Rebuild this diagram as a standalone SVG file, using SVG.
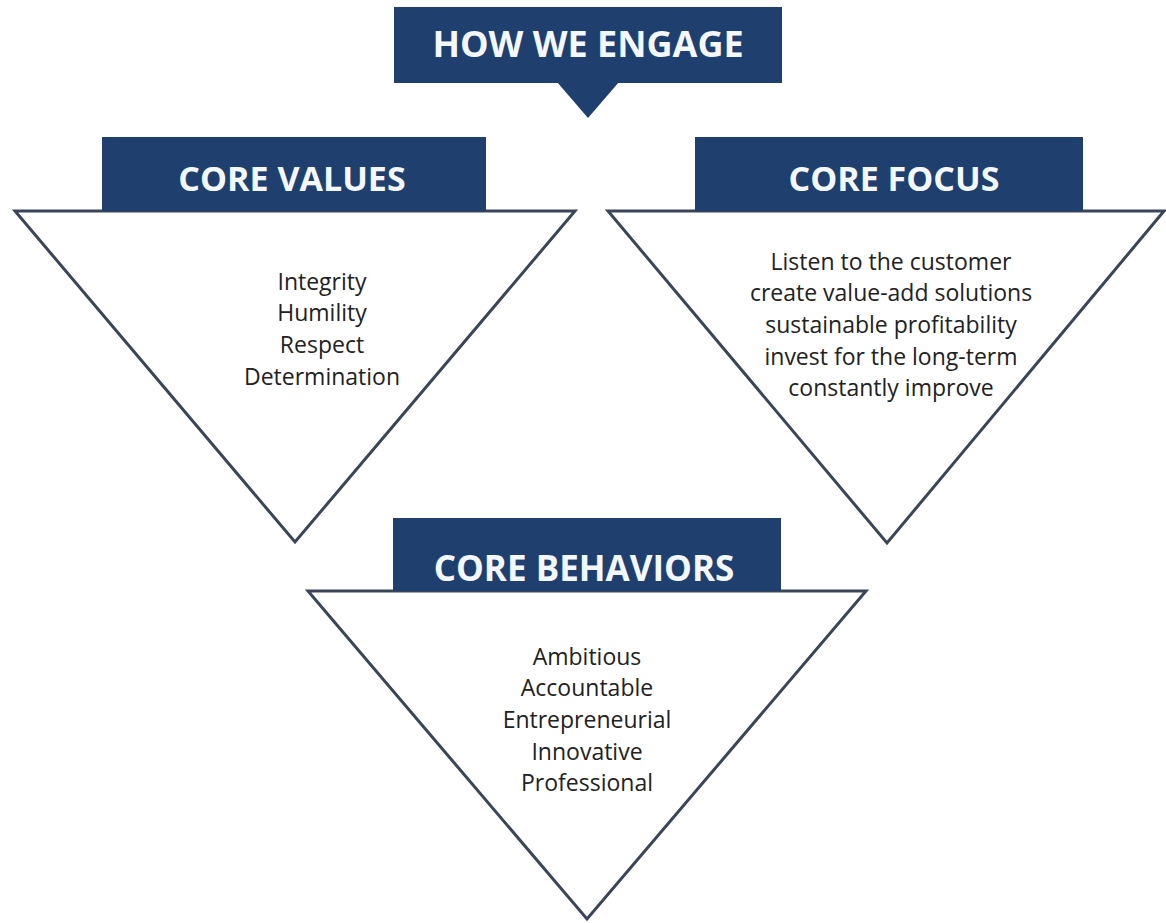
<svg xmlns="http://www.w3.org/2000/svg" width="1166" height="923" viewBox="0 0 1166 923">
<style>
.bg{fill:#ffffff}
.tri{fill:#ffffff;stroke:#3a4558;stroke-width:3;stroke-linejoin:miter}
.banner{fill:#1f406f}
.head{font-family:"Open Sans","Liberation Sans",sans-serif;font-weight:bold;fill:#f4f8fc;text-anchor:middle}
.body{font-family:"Open Sans","Liberation Sans",sans-serif;font-size:23px;fill:#222222;text-anchor:middle}
</style>
<rect class="bg" x="0" y="0" width="1166" height="923"/>
<g id="how-we-engage">
  <rect class="banner" x="394" y="7" width="388" height="76"/>
  <polygon class="banner" points="557,82 619,82 588,118"/>
  <text class="head" x="588" y="57" font-size="36">HOW WE ENGAGE</text>
</g>
<g id="core-values">
  <polygon class="tri" points="15,211 575,211 295,542"/>
  <rect class="banner" x="102" y="137" width="384" height="74"/>
  <text class="head" x="292" y="191" font-size="34">CORE VALUES</text>
  <text class="body" x="322" y="290">Integrity</text>
  <text class="body" x="322" y="321">Humility</text>
  <text class="body" x="322" y="353">Respect</text>
  <text class="body" x="322" y="385">Determination</text>
</g>
<g id="core-focus">
  <polygon class="tri" points="608,211 1164,211 887,543"/>
  <rect class="banner" x="695" y="137" width="388" height="74"/>
  <text class="head" x="894" y="191" font-size="34">CORE FOCUS</text>
  <text class="body" x="891" y="270">Listen to the customer</text>
  <text class="body" x="891" y="301">create value-add solutions</text>
  <text class="body" x="891" y="333">sustainable profitability</text>
  <text class="body" x="891" y="365">invest for the long-term</text>
  <text class="body" x="891" y="396">constantly improve</text>
</g>
<g id="core-behaviors">
  <polygon class="tri" points="308,591 866,591 587,919"/>
  <rect class="banner" x="393" y="518" width="388" height="73"/>
  <text class="head" x="584" y="581" font-size="35">CORE BEHAVIORS</text>
  <text class="body" x="587" y="665">Ambitious</text>
  <text class="body" x="587" y="696">Accountable</text>
  <text class="body" x="587" y="728">Entrepreneurial</text>
  <text class="body" x="587" y="760">Innovative</text>
  <text class="body" x="587" y="791">Professional</text>
</g>
<g id="connectors"></g>
</svg>
